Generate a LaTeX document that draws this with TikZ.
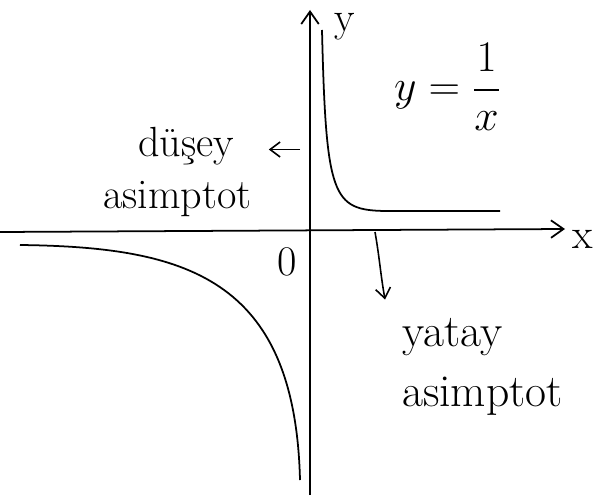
\documentclass[tikz,border=0pt]{standalone}
\usepackage{amsmath}
\usepackage{tikz}
\usetikzlibrary{positioning, arrows.meta}

\begin{document}
\begin{tikzpicture}[
    node distance=0.2cm,
    axis/.style={line width=1pt, -{Straight Barb[length=2.5mm, width=3.5mm]}},
    curve/.style={line width=1pt},
    arrow/.style={line width=0.9pt, -{Straight Barb[length=2mm, width=3mm]}},
    lbl/.style={font=\fontsize{24}{26}\selectfont, align=left, inner sep=1pt}
]
\useasboundingbox (-6.2,-5.26) rectangle (5.76,4.64);

% axes
\coordinate (xl) at (-6.2,0);
\coordinate (xr) at (5.1,0.06);
\coordinate (yb) at (0,-5.26);
\coordinate (yt) at (0,4.44);
\draw[axis] (xl) -- (xr);
\draw[axis] (yb) -- (yt);
\node[lbl] (xlab) at (5.45,-0.15) {x};
\node[lbl] (ylab) at (0.7,4.1) {y};
\node[lbl] (orig) at (-0.45,-0.6) {0};

% the two branches
\draw[curve] (0.24,4.04) .. controls (0.32,0.7) and (0.45,0.44) .. (1.5,0.42) -- (3.8,0.42);
\draw[curve] (-5.8,-0.26) .. controls (-2.5,-0.3) and (-0.3,-0.9) .. (-0.2,-4.96);

\node[lbl, font=\fontsize{26}{30}\selectfont] (eq) at (2.75,2.9) {$y=\dfrac{1}{x}$};

% asymptote labels
\node[lbl, font=\fontsize{24}{30}\selectfont] (dusey) at (-2.65,1.2) {\hspace{0.7cm}düşey\\asimptot};
\coordinate (va) at (-0.2,1.65);
\draw[arrow, shorten >=0.3cm] (va) -- (dusey.east |- va);

\node[lbl, font=\fontsize{26}{34}\selectfont] (yatay) at (3.45,-2.7) {yatay\\asimptot};
\coordinate (ha) at (1.3,0);
\coordinate (hb) at (1.5,-1.35);
\draw[arrow] (ha) to[out=-80, in=100] (hb);
\end{tikzpicture}
\end{document}
